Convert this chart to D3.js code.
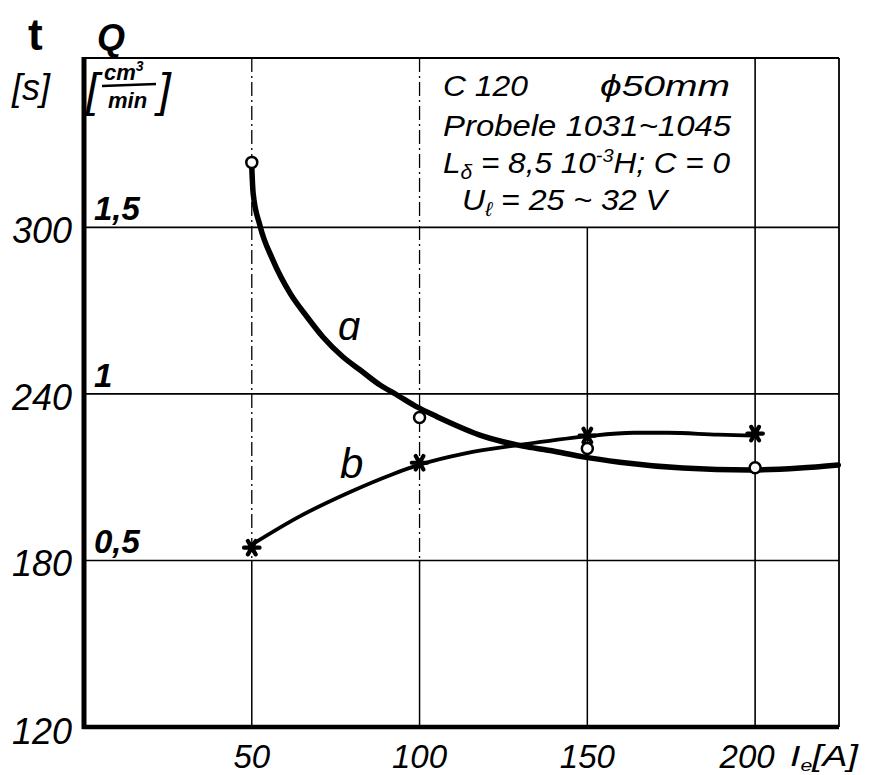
<!DOCTYPE html>
<html>
<head>
<meta charset="utf-8">
<script src="https://cdn.jsdelivr.net/npm/d3@7"></script>
<style>
  html, body { margin: 0; padding: 0; background: #fff; }
  svg { display: block; }
  text { font-family: "Liberation Sans", "DejaVu Sans", sans-serif; fill: #000; }
</style>
</head>
<body>
<svg id="chart" width="870" height="775"></svg>
<script>
// ---- data ----
const currentTicks = [50, 100, 150, 200];            // I_e [A]
const timeTicks = [120, 180, 240, 300];              // t [s]
const flowTicks = [0.5, 1, 1.5];                     // Q [cm3/min]
const flowTickLabels = ["0,5", "1", "1,5"];

// measured points (circles = curve a, stars = curve b)
const measuredI = [50, 100, 150, 200];
const measuredA = [323.4, 231.5, 220.3, 213.4];
const measuredB = [184.6, 215.2, 225.0, 225.7];

// hand-drawn curve a
const curveAI = [50, 50.4, 52.4, 56.3, 61.4, 66.5, 71.2, 77.2, 82.3, 88.2, 93.3, 99.2, 105.2, 118.9, 130.8, 138.9, 148.7, 159.7, 178.5, 198.5, 213.4, 224.8];
const curveAT = [321.7, 312.4, 300.8, 288.2, 276.3, 267.7, 260.5, 253.3, 248.6, 243.2, 239.6, 235.3, 231.8, 224.8, 221.2, 219.6, 217.3, 215.4, 213.3, 212.6, 213.3, 214.4];

// hand-drawn curve b
const curveBI = [50, 64.0, 78.8, 91.6, 100, 113.3, 130.3, 149.0, 163.9, 174.0, 188.9, 199.3];
const curveBT = [185.7, 195.7, 204.4, 210.9, 214.5, 218.5, 221.7, 224.6, 226.0, 226.0, 225.3, 225.0];

const noteLines = ["C 120", "Probele  1031~1045"];

// ---- drawing ----
const svg = d3.select("#chart");
const x = d3.scaleLinear().domain([0, 225]).range([84, 839]);
const y = d3.scaleLinear().domain([120, 361]).range([727, 58]);
const q = d3.scaleLinear().domain([0, (361 - 120) / 120]).range([727, 58]);

const g = svg.append("g");

// horizontal grid lines
g.selectAll("line.hgrid").data(timeTicks.filter(d => d > 120)).join("line")
  .attr("x1", x(0)).attr("x2", x(225))
  .attr("y1", d => y(d)).attr("y2", d => y(d))
  .attr("stroke", "#000").attr("stroke-width", 1.6);

// vertical grid lines
currentTicks.forEach(v => {
  if (v === 50 || v === 100) {
    g.append("line").attr("x1", x(v)).attr("x2", x(v))
      .attr("y1", y(361)).attr("y2", y(180))
      .attr("stroke", "#000").attr("stroke-width", 1.3)
      .attr("stroke-dasharray", "14,4,2,4");
    g.append("line").attr("x1", x(v)).attr("x2", x(v))
      .attr("y1", y(180)).attr("y2", y(120))
      .attr("stroke", "#000").attr("stroke-width", 1.5);
  } else if (v === 150) {
    g.append("line").attr("x1", x(v)).attr("x2", x(v))
      .attr("y1", y(300)).attr("y2", y(120))
      .attr("stroke", "#000").attr("stroke-width", 1.5);
  } else {
    g.append("line").attr("x1", x(v)).attr("x2", x(v))
      .attr("y1", y(361)).attr("y2", y(120))
      .attr("stroke", "#000").attr("stroke-width", 1.6);
  }
});

// frame: top and right thin, left and bottom thick
g.append("line").attr("x1", x(0)).attr("x2", x(225)).attr("y1", y(361)).attr("y2", y(361))
  .attr("stroke", "#000").attr("stroke-width", 1.8);
g.append("line").attr("x1", x(225)).attr("x2", x(225)).attr("y1", y(361)).attr("y2", y(120))
  .attr("stroke", "#000").attr("stroke-width", 1.8);
g.append("line").attr("x1", x(0)).attr("x2", x(0)).attr("y1", y(361) - 1).attr("y2", y(120) + 2)
  .attr("stroke", "#000").attr("stroke-width", 5);
g.append("line").attr("x1", x(0) - 2).attr("x2", x(225)).attr("y1", y(120)).attr("y2", y(120))
  .attr("stroke", "#000").attr("stroke-width", 4.5);

// curves
const lineGen = d3.line().x(d => x(d[0])).y(d => y(d[1])).curve(d3.curveMonotoneX);
const aPts = curveAI.map((v, i) => [v, curveAT[i]]);
const bPts = curveBI.map((v, i) => [v, curveBT[i]]);
g.append("path").attr("d", lineGen(aPts)).attr("fill", "none").attr("stroke", "#000").attr("stroke-width", 5.5).attr("stroke-linecap", "round");
g.append("path").attr("d", lineGen(bPts)).attr("fill", "none").attr("stroke", "#000").attr("stroke-width", 3.8).attr("stroke-linecap", "round");

// markers
const mA = measuredI.map((v, i) => [v, measuredA[i]]);
const mB = measuredI.map((v, i) => [v, measuredB[i]]);
g.selectAll("circle.ma").data(mA).join("circle")
  .attr("cx", d => x(d[0])).attr("cy", d => y(d[1])).attr("r", 5.5)
  .attr("fill", "#fff").attr("stroke", "#000").attr("stroke-width", 2.5);
const star = d3.symbol().type(d3.symbolAsterisk).size(170);
g.selectAll("path.mb").data(mB).join("path")
  .attr("d", star)
  .attr("transform", d => `translate(${x(d[0])},${y(d[1])}) rotate(30)`)
  .attr("fill", "none").attr("stroke", "#000").attr("stroke-width", 4.2).attr("stroke-linecap", "round");

// left tick labels (t)
g.selectAll("text.tt").data(timeTicks).join("text")
  .attr("x", 72).attr("y", d => y(d) + (d === 120 ? 17 : 16))
  .attr("text-anchor", "end").attr("font-size", 37).attr("font-style", "italic")
  .attr("textLength", 60).attr("lengthAdjust", "spacingAndGlyphs")
  .text(d => d);

// inner tick labels (Q)
g.selectAll("text.qt").data(flowTicks).join("text")
  .attr("x", 94).attr("y", d => q(d) - 7)
  .attr("font-size", 33).attr("font-weight", "bold").attr("font-style", "italic")
  .text((d, i) => flowTickLabels[i]);

// bottom tick labels
g.selectAll("text.xt").data(currentTicks).join("text")
  .attr("x", d => x(d) + (d === 200 ? -8 : 0)).attr("y", 768)
  .attr("text-anchor", "middle").attr("font-size", 33).attr("font-style", "italic")
  .text(d => d);
const xl = g.append("text").attr("x", 790).attr("y", 766).attr("font-size", 30).attr("font-style", "italic")
  .attr("textLength", 68).attr("lengthAdjust", "spacingAndGlyphs");
xl.append("tspan").text("I");
xl.append("tspan").attr("font-size", 17).attr("dy", 5).text("e");
xl.append("tspan").attr("dy", -5).text("[A]");

// axis titles
g.append("text").attr("x", 28).attr("y", 50).attr("font-size", 44).attr("font-weight", "bold").attr("font-family", "DejaVu Serif").text("t");
g.append("text").attr("x", 97).attr("y", 50).attr("font-size", 36).attr("font-weight", "bold").attr("font-style", "italic").text("Q");
g.append("text").attr("x", 12).attr("y", 100).attr("font-size", 36).attr("font-style", "italic").text("[s]");
// [cm3/min]
g.append("text").attr("x", 86).attr("y", 106).attr("font-size", 46).attr("font-style", "italic").text("[");
g.append("text").attr("x", 158).attr("y", 106).attr("font-size", 46).attr("font-style", "italic").text("]");
const cm = g.append("text").attr("x", 104).attr("y", 80).attr("font-size", 22).attr("font-weight", "bold").attr("font-style", "italic");
cm.append("tspan").text("cm");
cm.append("tspan").attr("font-size", 14).attr("dy", -9).text("3");
g.append("line").attr("x1", 102).attr("x2", 156).attr("y1", 86).attr("y2", 84).attr("stroke", "#000").attr("stroke-width", 2.5);
g.append("text").attr("x", 108).attr("y", 108).attr("font-size", 22).attr("font-weight", "bold").attr("font-style", "italic").text("min");

// curve labels
g.append("text").attr("x", 338).attr("y", 340).attr("font-size", 40).attr("font-style", "italic").text("ɑ");
g.append("text").attr("x", 340).attr("y", 478).attr("font-size", 42).attr("font-style", "italic").text("b");

// note block
const noteFont = 30;
g.append("text").attr("x", 443).attr("y", 96).attr("font-size", noteFont).attr("font-style", "italic")
  .attr("textLength", 85).attr("lengthAdjust", "spacingAndGlyphs").text(noteLines[0]);
g.append("text").attr("x", 600).attr("y", 96).attr("font-size", noteFont).attr("font-style", "italic")
  .attr("textLength", 130).attr("lengthAdjust", "spacingAndGlyphs").text("ϕ50mm");
g.append("text").attr("x", 443).attr("y", 136).attr("font-size", noteFont).attr("font-style", "italic")
  .attr("textLength", 288).attr("lengthAdjust", "spacingAndGlyphs").text(noteLines[1]);
const l3 = g.append("text").attr("x", 443).attr("y", 173).attr("font-size", noteFont).attr("font-style", "italic")
  .attr("textLength", 287).attr("lengthAdjust", "spacingAndGlyphs");
l3.append("tspan").text("L");
l3.append("tspan").attr("font-size", 20).attr("dy", 6).text("δ");
l3.append("tspan").attr("dy", -6).text(" = 8,5  10");
l3.append("tspan").attr("font-size", 19).attr("dy", -11).text("-3");
l3.append("tspan").attr("dy", 11).text("H;  C = 0");
const l4 = g.append("text").attr("x", 462).attr("y", 210).attr("font-size", noteFont).attr("font-style", "italic")
  .attr("textLength", 205).attr("lengthAdjust", "spacingAndGlyphs");
l4.append("tspan").text("U");
l4.append("tspan").attr("font-size", 20).attr("dy", 6).text("ℓ");
l4.append("tspan").attr("dy", -6).text(" = 25 ~ 32  V");
</script>
</body>
</html>
